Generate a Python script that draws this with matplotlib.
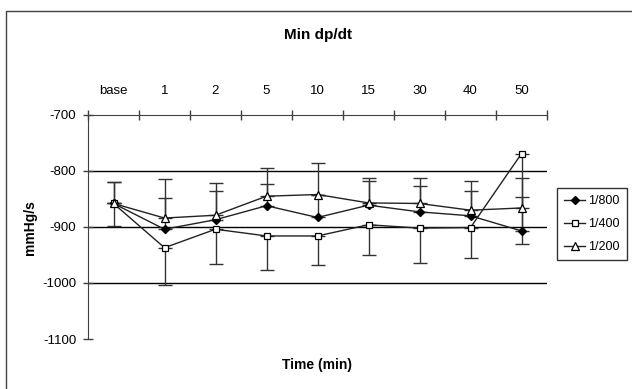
import numpy as np
import matplotlib
matplotlib.use("Agg")
import matplotlib.pyplot as plt
from matplotlib.patches import Rectangle

plt.rcParams['font.family'] = ['Liberation Sans', 'DejaVu Sans']
plt.rcParams['axes.unicode_minus'] = False

# === data ===
categories = ['base', '1', '2', '5', '10', '15', '30', '40', '50']
s800 = [-858, -904, -887, -862, -883, -861, -873, -880, -907]
s400 = [-858, -937, -904, -916, -916, -896, -902, -901, -769]
s200 = [-858, -884, -879, -845, -842, -857, -858, -870, -866]
# error bars (Excel style, one direction per series)
e800_up = [38, 89, 65, 39, 40, 48, 60, 62, 94]
e400_dn = [40, 67, 62, 60, 52, 54, 62, 55, 161]
e200_up = [38, 35, 44, 50, 56, 40, 32, 34, 19]
labels = ['1/800', '1/400', '1/200']

W, H = 632, 389
fig = plt.figure(figsize=(W / 100, H / 100), dpi=100)
ax = fig.add_axes([88 / W, 1 - 339 / H, 459 / W, 224 / H])

x = np.arange(len(categories))
zeros = np.zeros(len(categories))
ecol = '#333333'

# error bars first
ax.errorbar(x, s800, yerr=[zeros, e800_up], fmt='none', ecolor=ecol,
            elinewidth=1, capsize=5, capthick=1, zorder=2)
ax.errorbar(x, s400, yerr=[e400_dn, zeros], fmt='none', ecolor=ecol,
            elinewidth=1, capsize=5, capthick=1, zorder=2)
ax.errorbar(x, s200, yerr=[zeros, e200_up], fmt='none', ecolor=ecol,
            elinewidth=1, capsize=5, capthick=1, zorder=2)

l1, = ax.plot(x, s800, '-', color='#222222', lw=1, marker='D', ms=4.5,
              mfc='black', mec='black', zorder=4)
l2, = ax.plot(x, s400, '-', color='#222222', lw=1, marker='s', ms=5,
              mfc='white', mec='black', mew=0.9, zorder=4)
l3, = ax.plot(x, s200, '-', color='#222222', lw=1, marker='^', ms=5.5,
              mfc='white', mec='black', mew=0.9, zorder=4)

# gridlines
for g in [-800, -900, -1000]:
    ax.axhline(g, color='black', lw=1, zorder=1)

ax.set_xlim(-0.5, len(categories) - 0.5)
ax.set_ylim(-1100, -700)

# x axis on top, ticks between categories
ax.xaxis.tick_top()
ax.set_xticks(np.arange(-0.5, len(categories), 1.0))
ax.set_xticklabels([])
ax.set_xticks(x, minor=True)
ax.set_xticklabels(categories, minor=True)
ax.tick_params(axis='x', which='major', direction='inout', length=7,
               width=1, color='#404040')
ax.tick_params(axis='x', which='minor', length=0, pad=13, labelsize=9.5)

ax.set_yticks([-1100, -1000, -900, -800, -700])
ax.tick_params(axis='y', direction='inout', length=7, width=1,
               color='#404040', labelsize=9.5, pad=5)

for side in ['right', 'bottom']:
    ax.spines[side].set_visible(False)
ax.spines['top'].set_color('#404040')
ax.spines['left'].set_color('#404040')

fig.text(0.5 * (88 + 547) / W, 1 - 35 / H, 'Min dp/dt', ha='center',
         va='center', fontsize=11, fontweight='bold')
fig.text(30 / W, 1 - 228 / H, 'mmHg/s', rotation=90, ha='center',
         va='center', fontsize=10, fontweight='bold')
fig.text(317 / W, 1 - 365 / H, 'Time (min)', ha='center', va='center',
         fontsize=10, fontweight='bold')

leg = fig.legend([l1, l2, l3], labels, loc='upper left',
                 bbox_to_anchor=(557 / W, 1 - 188 / H), fontsize=9,
                 frameon=True, fancybox=False, borderpad=0.55,
                 labelspacing=0.9, handlelength=1.7, handletextpad=0.25,
                 borderaxespad=0)
leg.get_frame().set_edgecolor('black')
leg.get_frame().set_linewidth(1)

# outer chart frame
fig.patches.append(Rectangle((5.5 / W, -0.1), 2, 1.1 - 11 / H,
                             transform=fig.transFigure, fill=False,
                             edgecolor='#404040', lw=1))

fig.savefig('out.png', dpi=100)
